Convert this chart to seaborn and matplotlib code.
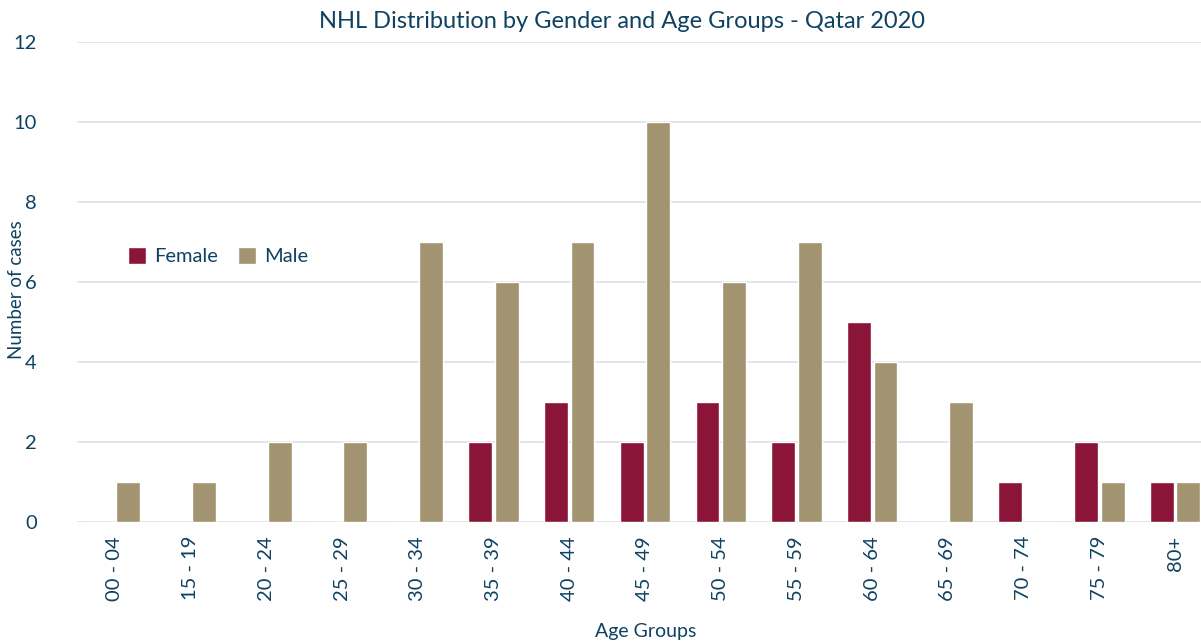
import pandas as pd
import matplotlib
matplotlib.use("Agg")
import matplotlib.pyplot as plt
import seaborn as sns

age_groups = ["00 - 04", "15 - 19", "20 - 24", "25 - 29", "30 - 34", "35 - 39",
              "40 - 44", "45 - 49", "50 - 54", "55 - 59", "60 - 64", "65 - 69",
              "70 - 74", "75 - 79", "80+"]
female = [0, 0, 0, 0, 0, 2, 3, 2, 3, 2, 5, 0, 1, 2, 1]
male = [1, 1, 2, 2, 7, 6, 7, 10, 6, 7, 4, 3, 0, 1, 1]

df = pd.DataFrame({
    "age": age_groups * 2,
    "cases": female + male,
    "gender": ["Female"] * len(age_groups) + ["Male"] * len(age_groups),
})

text_color = "#0f4261"
sns.set_style("white")
plt.rcParams["font.family"] = ["Lato", "DejaVu Sans"]

fig = plt.figure(figsize=(12.01, 6.42), dpi=100)
ax = fig.add_axes([77 / 1201, 120 / 642, 1136 / 1201, 480 / 642])

sns.barplot(data=df, x="age", y="cases", hue="gender",
            palette={"Female": "#8a1538", "Male": "#a29371"},
            width=0.7, gap=0.1, saturation=1, ax=ax, legend=True)

ax.set_xlim(-0.5, len(age_groups) - 0.5)
ax.set_ylim(0, 12)
ax.set_yticks(range(0, 13, 2))
ax.yaxis.grid(True, color="#dde1e7", linewidth=1.2)
ax.set_axisbelow(True)
for s in ax.spines.values():
    s.set_visible(False)

ax.tick_params(axis="y", length=0, pad=29, labelsize=14.5, labelcolor=text_color)
ax.tick_params(axis="x", length=0, pad=10, labelsize=14.5, labelcolor=text_color)
plt.setp(ax.get_xticklabels(), rotation=90)

ax.set_xlabel("Age Groups", fontsize=14, color=text_color)
ax.set_ylabel("Number of cases", fontsize=13.5, color=text_color)
ax.xaxis.set_label_coords((646 - 77) / 1136, -(623 - 522) / 480)
ax.yaxis.set_label_coords(-(77 - 25) / 1136, (522 - 290) / 480)

fig.text(622 / 1201, 1 - 22 / 642, "NHL Distribution by Gender and Age Groups - Qatar 2020",
         ha="center", va="center", fontsize=17, color=text_color)

ax.legend(loc="center left", bbox_to_anchor=(33 / 1136, (522 - 256) / 480),
          ncol=2, frameon=False, fontsize=14.5, labelcolor=text_color,
          handlelength=0.9, handleheight=0.9, handletextpad=0.4, columnspacing=1.0)

fig.savefig("out.png", dpi=100)
